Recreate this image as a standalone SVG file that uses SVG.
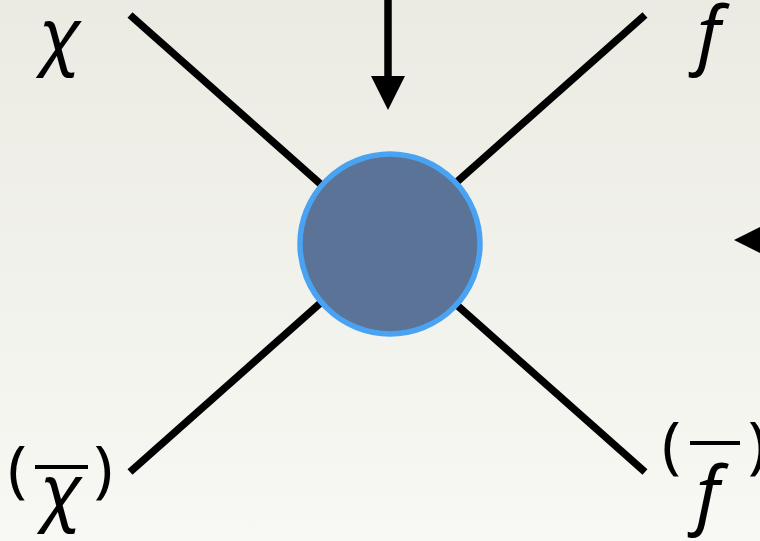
<svg xmlns="http://www.w3.org/2000/svg" width="760" height="541" viewBox="0 0 760 541">
<defs>
<linearGradient id="bg" x1="0" y1="0" x2="0" y2="1">
<stop offset="0" stop-color="#ebebe3"/>
<stop offset="1" stop-color="#f8f8f4"/>
</linearGradient>
<style>
.leg{stroke:#000;stroke-width:7.5;fill:none}
.lbl{font-family:"Noto Sans","DejaVu Sans",sans-serif;font-style:italic;font-size:74px;fill:#000}
.par{font-family:"Noto Sans","DejaVu Sans",sans-serif;font-size:62px;fill:#000}
</style>
</defs>
<rect width="760" height="541" fill="url(#bg)"/>
<g id="connectors">
<line class="leg" x1="130" y1="15" x2="645" y2="472"/>
<line class="leg" x1="645" y1="15" x2="130" y2="472"/>
<line class="leg" x1="388" y1="0" x2="388" y2="80"/>
<polygon points="371,76 405,76 388,110" fill="#000"/>
<polygon points="734,240 762,226 762,254" fill="#000"/>
</g>
<g id="vertex">
<circle cx="390" cy="244" r="90" fill="#5b7396" stroke="#4aa3f2" stroke-width="5.5"/>
</g>
<g id="label-chi">
<text class="lbl" x="39" y="60">χ</text>
</g>
<g id="label-f">
<text class="lbl" x="697" y="60">f</text>
</g>
<g id="label-chibar">
<text class="par" x="8" y="490">(</text>
<line x1="35" y1="467" x2="88" y2="467" stroke="#000" stroke-width="4"/>
<text class="lbl" x="40" y="516">χ</text>
<text class="par" x="94" y="490">)</text>
</g>
<g id="label-fbar">
<text class="par" x="662" y="466">(</text>
<line x1="690" y1="443" x2="740" y2="443" stroke="#000" stroke-width="4"/>
<text class="lbl" x="696" y="520">f</text>
<text class="par" x="748" y="466">)</text>
</g>
</svg>
